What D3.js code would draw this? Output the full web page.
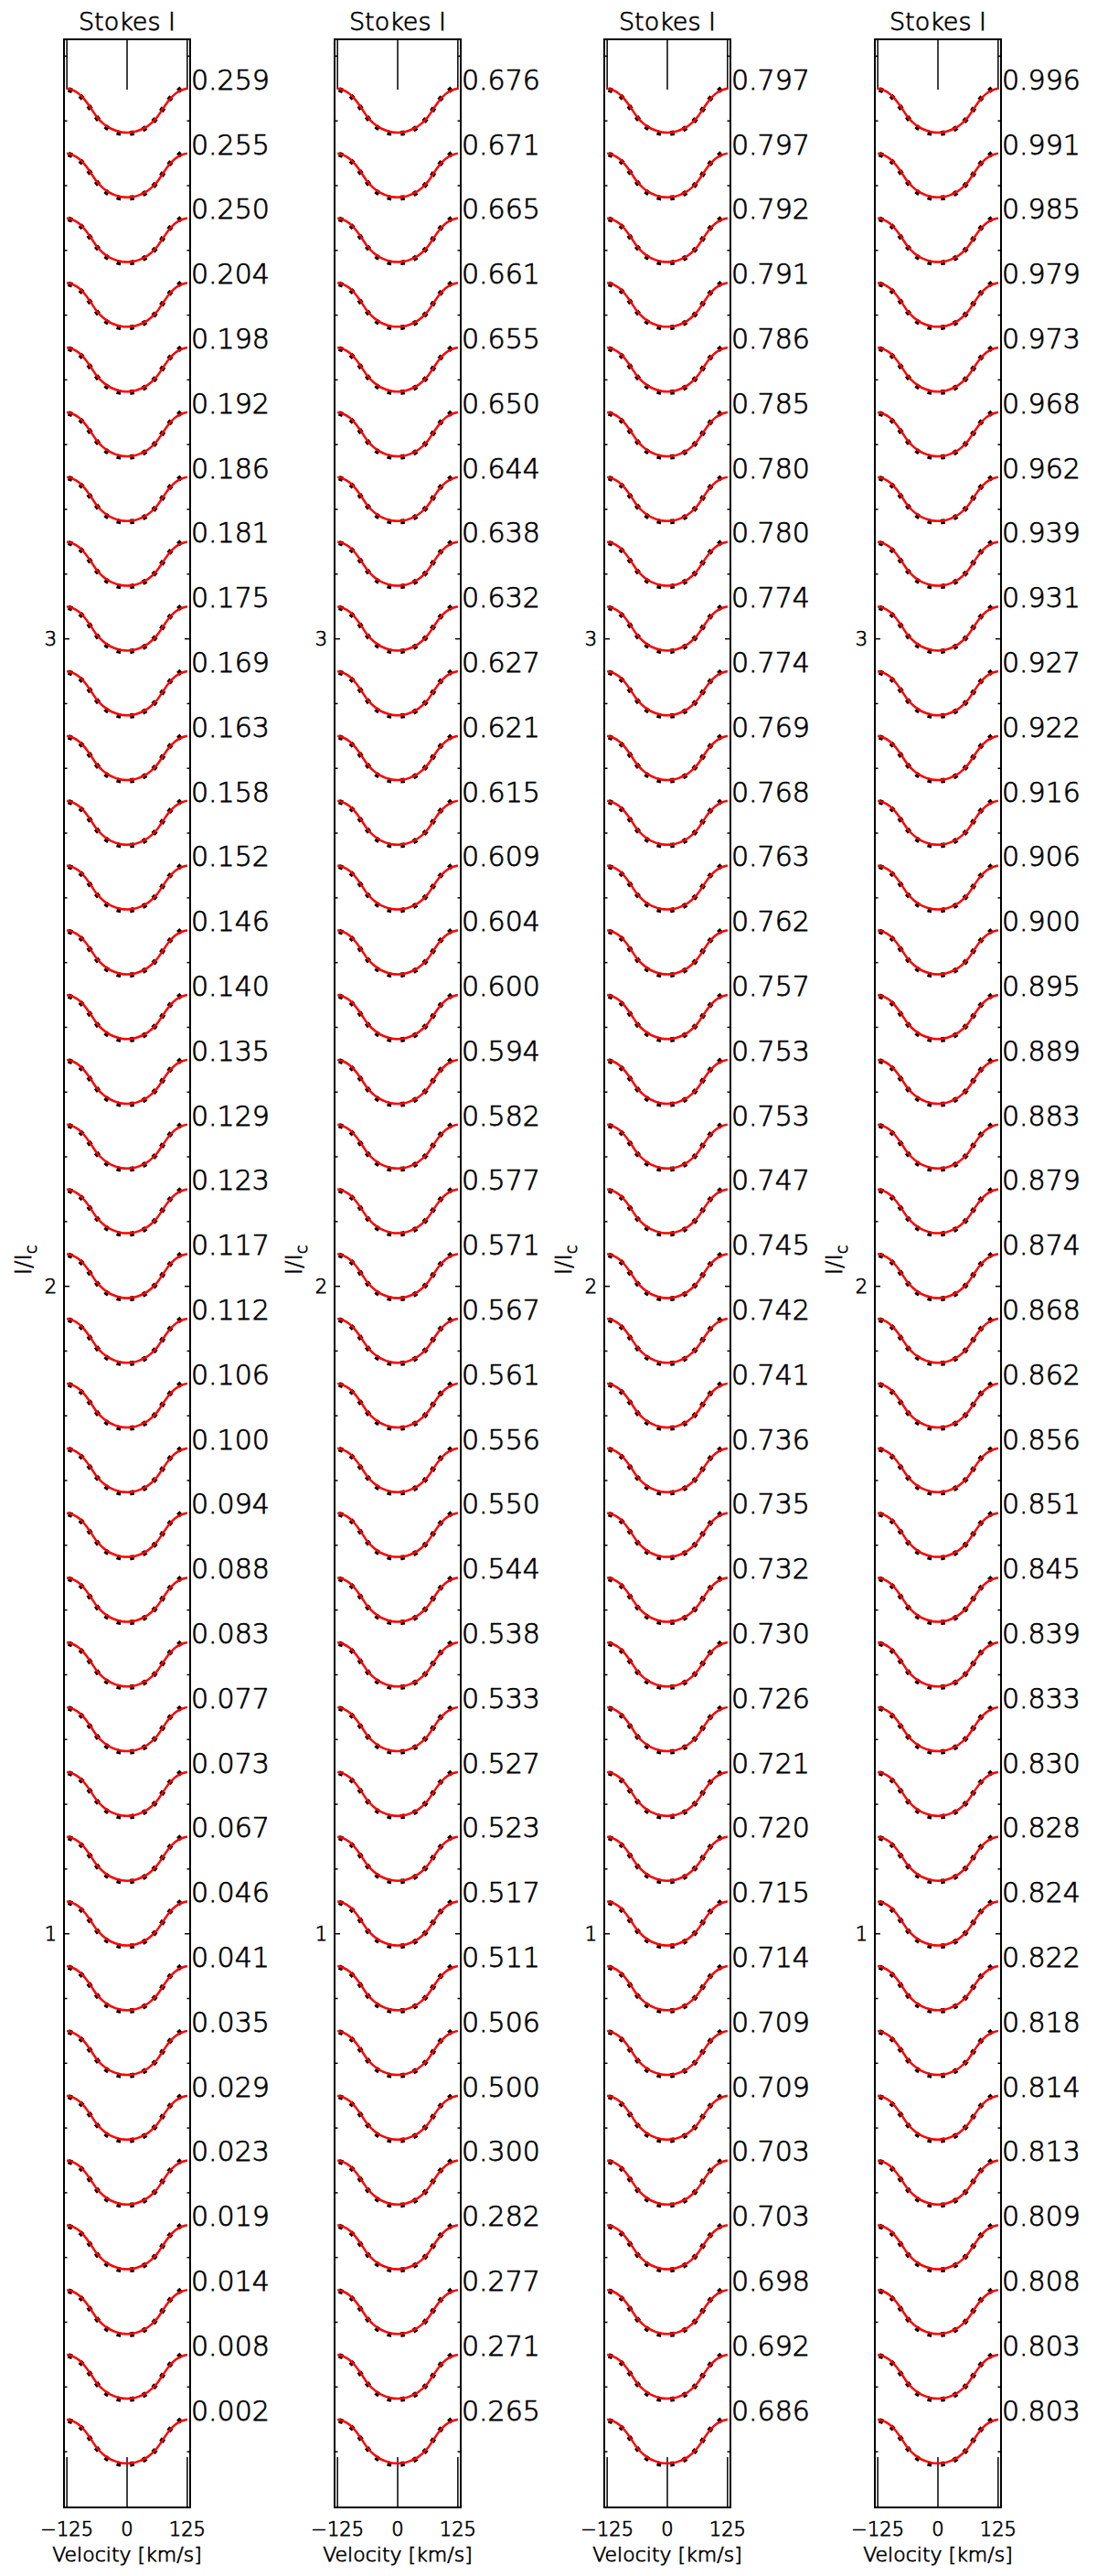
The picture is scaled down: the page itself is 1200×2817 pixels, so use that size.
<!DOCTYPE html>
<html>
<head>
<meta charset="utf-8">
<script src="https://cdn.jsdelivr.net/npm/d3@7.9.0/dist/d3.min.js"></script>
<style>
  html, body { margin: 0; padding: 0; background: #fff; }
  svg { display: block; font-family: 'DejaVu Sans', sans-serif; font-weight: 200; }
  svg text { fill: #000; stroke: #000; stroke-width: 0.75px; }
</style>
</head>
<body>
<div id="chart"></div>
<script>
// Velocity grid of the model (km/s) and the model line profile, I/Ic
const modelVelocity = [-125, -112.5, -100, -87.5, -75, -62.5, -50, -37.5, -25, -12.5, 0,
  12.5, 25, 37.5, 50, 62.5, 75, 87.5, 100, 112.5, 125];
const modelProfile = [1.0, 0.9973, 0.9918, 0.9823, 0.9694, 0.9558, 0.9463, 0.9395, 0.9354, 0.9327, 0.932,
  0.9327, 0.9354, 0.9395, 0.9463, 0.9558, 0.9694, 0.9823, 0.9918, 0.9973, 1.0];

const obsVelocity = [-122, -110, -98, -86, -74, -62, -50, -38, -26, -14, -2,
  10, 22, 34, 46, 58, 70, 82, 94, 106, 118];
const obsProfile = [0.9985, 0.995, 0.9888, 0.9795, 0.9668, 0.9542, 0.9444, 0.9377, 0.9333, 0.9308, 0.9305,
  0.9312, 0.9329, 0.9371, 0.9432, 0.9518, 0.9638, 0.9775, 0.9885, 0.996, 1.004];

// Rotational phase labels, top to bottom, one list per panel
const phases1 = ['0.259', '0.255', '0.250', '0.204', '0.198', '0.192', '0.186', '0.181', '0.175', '0.169',
  '0.163', '0.158', '0.152', '0.146', '0.140', '0.135', '0.129', '0.123', '0.117', '0.112', '0.106',
  '0.100', '0.094', '0.088', '0.083', '0.077', '0.073', '0.067', '0.046', '0.041', '0.035', '0.029',
  '0.023', '0.019', '0.014', '0.008', '0.002'];
const phases2 = ['0.676', '0.671', '0.665', '0.661', '0.655', '0.650', '0.644', '0.638', '0.632', '0.627',
  '0.621', '0.615', '0.609', '0.604', '0.600', '0.594', '0.582', '0.577', '0.571', '0.567', '0.561',
  '0.556', '0.550', '0.544', '0.538', '0.533', '0.527', '0.523', '0.517', '0.511', '0.506', '0.500',
  '0.300', '0.282', '0.277', '0.271', '0.265'];
const phases3 = ['0.797', '0.797', '0.792', '0.791', '0.786', '0.785', '0.780', '0.780', '0.774', '0.774',
  '0.769', '0.768', '0.763', '0.762', '0.757', '0.753', '0.753', '0.747', '0.745', '0.742', '0.741',
  '0.736', '0.735', '0.732', '0.730', '0.726', '0.721', '0.720', '0.715', '0.714', '0.709', '0.709',
  '0.703', '0.703', '0.698', '0.692', '0.686'];
const phases4 = ['0.996', '0.991', '0.985', '0.979', '0.973', '0.968', '0.962', '0.939', '0.931', '0.927',
  '0.922', '0.916', '0.906', '0.900', '0.895', '0.889', '0.883', '0.879', '0.874', '0.868', '0.862',
  '0.856', '0.851', '0.845', '0.839', '0.833', '0.830', '0.828', '0.824', '0.822', '0.818', '0.814',
  '0.813', '0.809', '0.808', '0.803', '0.803'];

const panels = [phases1, phases2, phases3, phases4];
const xTicks = [-125, 0, 125];
const yTicks = [1, 2, 3];
const topOffset = 2.85;   // shift of the top spectrum
const stepOffset = 0.1;   // shift between consecutive spectra

const width = 1200;
const height = 2817;
const frame = { top: 43, bottom: 2742, width: 138 };
const panelLefts = [70, 366, 661, 957];

const svg = d3.select('#chart')
  .append('svg')
  .attr('width', width)
  .attr('height', height);

const yScale = d3.scaleLinear().domain([0.114, 3.926]).range([frame.bottom, frame.top]);

function renderPanel(phases, left) {
  const right = left + frame.width;
  const xScale = d3.scaleLinear().domain([-131, 131]).range([left, right]);
  const g = svg.append('g');
  const cx = (left + right) / 2;

  g.append('text')
    .attr('x', cx)
    .attr('y', 33)
    .attr('text-anchor', 'middle')
    .attr('font-size', 27)
    .text('Stokes I');

  // y ticks, both sides, pointing inward
  const minor = d3.range(2, 40).map((d) => d / 10);
  const tickG = g.append('g').attr('stroke', '#000').attr('stroke-width', 1.5);
  minor.forEach((v) => {
    const y = yScale(v);
    if (y < frame.top || y > frame.bottom) return;
    const len = Math.abs(v - Math.round(v)) < 1e-6 ? 6 : 3.5;
    tickG.append('line').attr('x1', left).attr('x2', left + len).attr('y1', y).attr('y2', y);
    tickG.append('line').attr('x1', right).attr('x2', right - len).attr('y1', y).attr('y2', y);
  });

  yTicks.forEach((v) => {
    g.append('text')
      .attr('x', left - 8)
      .attr('y', yScale(v) + 7)
      .attr('text-anchor', 'end')
      .attr('font-size', 21)
      .text(v);
  });

  const yLabel = g.append('text')
    .attr('transform', `translate(${left - 36}, 1378) rotate(-90)`)
    .attr('text-anchor', 'middle')
    .attr('font-size', 25);
  yLabel.append('tspan').text('I/I');
  yLabel.append('tspan').attr('font-size', 17).attr('dy', 6).text('c');

  // x ticks top and bottom
  xTicks.forEach((v) => {
    const x = xScale(v);
    tickG.append('line').attr('x1', x).attr('x2', x).attr('y1', frame.top).attr('y2', frame.top + 55);
    tickG.append('line').attr('x1', x).attr('x2', x).attr('y1', frame.bottom).attr('y2', frame.bottom - 55);
    g.append('text')
      .attr('x', x)
      .attr('y', 2773)
      .attr('text-anchor', 'middle')
      .attr('font-size', 21)
      .text(v < 0 ? `\u2212${-v}` : v);
  });

  g.append('text')
    .attr('x', cx)
    .attr('y', 2801)
    .attr('text-anchor', 'middle')
    .attr('font-size', 22)
    .text('Velocity [km/s]');

  const profileLine = d3.line()
    .x((d) => xScale(d[0]))
    .y((d) => yScale(d[1]))
    .curve(d3.curveCatmullRom);

  phases.forEach((label, i) => {
    const shift = topOffset - stepOffset * i;
    const obs = obsVelocity.map((v, k) => [v, obsProfile[k] + shift]);
    const model = modelVelocity.map((v, k) => [v, modelProfile[k] + shift]);

    g.append('path')
      .attr('d', profileLine(obs))
      .attr('fill', 'none')
      .attr('stroke', '#000')
      .attr('stroke-width', 5.5)
      .attr('stroke-dasharray', '4.5 10');

    g.append('path')
      .attr('d', profileLine(model))
      .attr('fill', 'none')
      .attr('stroke', '#ff0000')
      .attr('stroke-width', 2.5);

    g.append('text')
      .attr('x', right + 1)
      .attr('y', yScale(1 + shift) + 1)
      .attr('font-size', 30)
      .text(label);
  });

  g.append('rect')
    .attr('x', left)
    .attr('y', frame.top)
    .attr('width', frame.width)
    .attr('height', frame.bottom - frame.top)
    .attr('fill', 'none')
    .attr('stroke', '#000')
    .attr('stroke-width', 2);
}

panels.forEach((phases, i) => renderPanel(phases, panelLefts[i]));
</script>
</body>
</html>
